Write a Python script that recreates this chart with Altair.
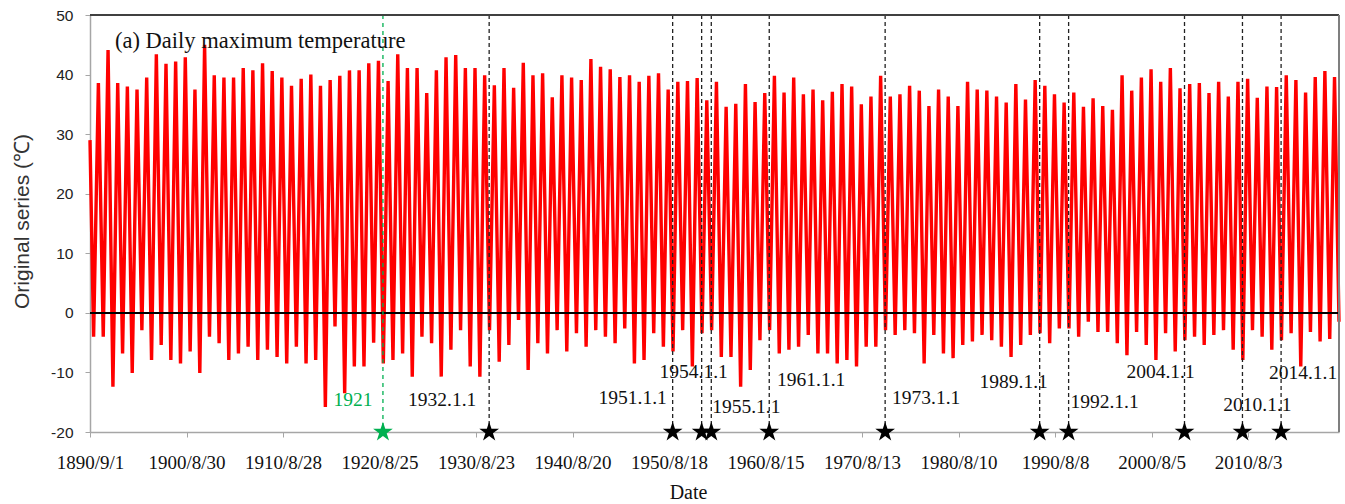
import altair as alt
import pandas as pd

# ---- series: daily maximum temperature, one winter low and one summer peak per year ----
start_date, start_value = "1890-09-01", 29.0
end_date, end_value = "2019-12-31", -1.5

years = list(range(1891, 2020))

summer_peak = [
    38.6, 44.1, 38.6, 38.0, 37.5, 39.5, 43.4, 41.8, 42.2, 42.9,   # 1891-1900
    37.5, 45.0, 39.9, 39.5, 39.5, 41.1, 40.7, 41.9, 40.6, 39.5,   # 1901-1910
    38.1, 39.3, 40.0, 38.1, 39.1, 39.8, 40.7, 40.7, 41.9, 42.3,   # 1911-1920
    38.9, 43.4, 41.1, 41.1, 36.9, 40.7, 42.9, 43.3, 41.1, 41.1,   # 1921-1930
    39.9, 38.2, 41.1, 37.8, 42.0, 39.9, 40.2, 36.2, 39.9, 39.5,   # 1931-1940
    39.1, 42.6, 41.3, 40.9, 39.6, 39.9, 38.8, 39.8, 40.2, 37.5,   # 1941-1950
    38.8, 38.9, 39.4, 35.7, 38.8, 34.6, 35.1, 38.4, 35.4, 36.9,   # 1951-1960
    39.8, 37.0, 39.5, 36.7, 37.5, 35.7, 37.1, 38.4, 38.0, 35.0,   # 1961-1970
    36.3, 39.8, 36.3, 36.7, 38.1, 37.3, 34.7, 37.5, 36.3, 34.7,   # 1971-1980
    38.8, 37.5, 37.3, 36.3, 35.3, 38.4, 35.8, 39.1, 38.1, 36.7,   # 1981-1990
    35.3, 37.0, 34.6, 36.0, 34.7, 34.1, 39.9, 37.3, 39.5, 40.9,   # 1991-2000
    38.8, 41.1, 37.7, 38.4, 38.6, 36.9, 38.8, 36.3, 38.8, 39.3,   # 2001-2010
    36.1, 38.0, 37.9, 39.9, 39.1, 37.0, 39.6, 40.6, 39.6,         # 2011-2019
]

winter_low = [
    -4.0, -4.0, -12.4, -6.8, -10.1, -2.9, -7.9, -5.4, -7.9, -8.5,  # 1891-1900
    -6.5, -10.1, -4.0, -5.1, -7.9, -6.8, -5.7, -7.9, -6.2, -7.4,   # 1901-1910
    -8.5, -5.7, -8.5, -7.9, -15.8, -2.3, -13.5, -9.0, -9.0, -5.0,  # 1911-1920
    -8.5, -7.9, -6.8, -10.7, -4.0, -5.1, -10.7, -6.2, -2.9, -9.0,  # 1921-1930
    -10.7, -2.9, -8.2, -5.4, -1.2, -9.6, -5.1, -6.8, -2.9, -6.5,   # 1931-1940
    -3.4, -5.7, -2.9, -4.0, -5.1, -2.6, -8.5, -7.9, -3.4, -5.7,    # 1941-1950
    -6.5, -2.9, -9.0, -3.4, -2.9, -7.4, -7.4, -12.4, -9.6, -4.6,   # 1951-1960
    -2.9, -6.8, -6.2, -5.7, -3.7, -6.8, -6.8, -8.5, -7.9, -9.0,    # 1961-1970
    -5.7, -5.7, -2.9, -3.7, -2.9, -3.4, -8.5, -3.7, -6.8, -7.6,    # 1971-1980
    -5.4, -4.8, -3.7, -4.6, -5.7, -7.4, -5.4, -3.7, -3.4, -5.1,    # 1981-1990
    -2.6, -2.6, -4.0, -1.5, -3.2, -3.2, -5.1, -7.1, -3.2, -5.4,    # 1991-2000
    -7.9, -3.4, -6.5, -4.6, -4.0, -5.4, -3.7, -2.9, -6.2, -7.9,    # 2001-2010
    -2.9, -4.0, -6.2, -4.6, -3.4, -9.0, -3.2, -4.8, -4.4,          # 2011-2019
]

# ---- change points ----
break_dates = ["1921-01-01", "1932-01-01", "1951-01-01", "1954-01-01",
               "1955-01-01", "1961-01-01", "1973-01-01", "1989-01-01",
               "1992-01-01", "2004-01-01", "2010-01-01", "2014-01-01"]
break_labels = ["1921", "1932.1.1", "1951.1.1", "1954.1.1", "1955.1.1",
                "1961.1.1", "1973.1.1", "1989.1.1", "1992.1.1", "2004.1.1",
                "2010.1.1", "2014.1.1"]

# label placement: horizontal offset (px) from the dashed line, height on the y scale
label_dx = [-30, -47, -40, -8, 35, 42, 41, -26, 36, -24, 15, 22]
label_y = [-14.6, -14.6, -14.3, -9.9, -15.8, -11.3, -14.3, -11.6, -15.0, -9.9, -15.5, -10.1]

tick_dates = pd.date_range("1890-09-01", periods=13, freq="3650D")

# ---- build tables ----
rows = [{"date": start_date, "value": start_value}]
for yr, lo, hi in zip(years, winter_low, summer_peak):
    rows.append({"date": f"{yr}-01-15", "value": lo})
    rows.append({"date": f"{yr}-07-15", "value": hi})
rows.append({"date": end_date, "value": end_value})
series = pd.DataFrame(rows)


def ms(d):
    return int(pd.Timestamp(d).value // 1_000_000)


SERIF = "Liberation Serif"
SANS = "Liberation Sans"
GREEN = "#00b050"
AXIS_GREY = "#a6a6a6"
W, H = 1249, 417

# five-pointed star in the [-1, 1] box used by Vega for custom symbol paths
STAR = ("M0,-1 L0.2245,-0.309 L0.951,-0.309 L0.3633,0.118 L0.588,0.809 "
        "L0,0.382 L-0.588,0.809 L-0.3633,0.118 L-0.951,-0.309 L-0.2245,-0.309 Z")

x_scale = alt.Scale(type="utc", domain=[ms(start_date), ms(end_date)], nice=False)
y_scale = alt.Scale(domain=[-20, 50], nice=False, zero=False)

x_axis = alt.Axis(
    title="Date", orient="bottom", values=[ms(t) for t in tick_dates],
    labelExpr="utcFormat(datum.value, '%Y/%-m/%-d')",
    labelFont=SERIF, labelFontSize=19, labelColor="#111111",
    labelBaseline="alphabetic", labelPadding=31, labelOverlap=False,
    labelFlush=False,
    tickSize=5, tickColor=AXIS_GREY, domainColor=AXIS_GREY, domainWidth=1.5,
    grid=False, titleFont=SERIF, titleFontSize=20, titleFontWeight="normal",
    titleColor="#111111", titleX=598, titleY=66, titleAlign="center",
    titleBaseline="alphabetic",
)
y_axis = alt.Axis(
    title="Original series (℃)", orient="left", values=list(range(-20, 51, 10)),
    labelExpr="'' + datum.value",
    labelFont=SANS, labelFontSize=15.5, labelColor="#222222", labelPadding=12,
    tickSize=5, tickColor=AXIS_GREY, domainColor=AXIS_GREY, domainWidth=1.5,
    grid=False, titleFont=SANS, titleFontSize=21, titleFontWeight="normal",
    titleColor="#333333", titleX=-68, titleY=206, titleAngle=-90,
    titleAlign="center", titleBaseline="middle",
)


def X():
    return alt.X("date:T", scale=x_scale, axis=x_axis)


def Yd(v):
    return alt.YDatum(v, scale=y_scale, axis=y_axis, type="quantitative")


line = alt.Chart(series).mark_line(color="#ff0000", strokeWidth=3.4).encode(
    x=X(), y=alt.Y("value:Q", scale=y_scale, axis=y_axis)
)

zero_rule = alt.Chart(series).mark_rule(color="#000000", strokeWidth=1.5).encode(y=Yd(0))

frame_top = alt.Chart(series).mark_rule(color="#404040", strokeWidth=1.5).encode(y=Yd(50))
frame_right = alt.Chart(series).mark_rule(color="#7f7f7f", strokeWidth=1.5).encode(
    x=alt.value(W), y=alt.value(0), y2=alt.value(H)
)

events = pd.DataFrame({"date": break_dates, "label": break_labels})
ev_black = events.iloc[1:]
ev_green = events.iloc[:1]

rules_black = alt.Chart(ev_black).mark_rule(
    color="#222222", strokeWidth=1.3, strokeDash=[4, 3]
).encode(x=X(), y=Yd(50), y2=alt.Y2Datum(-20))

rule_green = alt.Chart(ev_green).mark_rule(
    color=GREEN, strokeWidth=1.3, strokeDash=[4, 4]
).encode(x=X(), y=Yd(50), y2=alt.Y2Datum(-20))

stars_black = alt.Chart(ev_black).mark_point(
    shape=STAR, filled=True, size=430, color="#000000", opacity=1
).encode(x=X(), y=Yd(-20))

star_green = alt.Chart(ev_green).mark_point(
    shape=STAR, filled=True, size=430, color=GREEN, opacity=1
).encode(x=X(), y=Yd(-20))

labels = []
for i, (d, lab) in enumerate(zip(break_dates, break_labels)):
    labels.append(
        alt.Chart(pd.DataFrame({"date": [d], "label": [lab]})).mark_text(
            dx=label_dx[i], align="center", baseline="middle", font=SERIF,
            fontSize=19.5, color=GREEN if i == 0 else "#111111",
        ).encode(x=X(), y=Yd(label_y[i]), text="label:N")
    )

panel_title = alt.Chart(pd.DataFrame({"t": ["(a) Daily maximum temperature"]})).mark_text(
    align="left", baseline="alphabetic", font=SERIF, fontSize=22.5, color="#111111"
).encode(x=alt.value(25), y=alt.value(33), text="t:N")

chart = alt.layer(
    line, zero_rule, rules_black, rule_green, frame_top, frame_right,
    stars_black, star_green, *labels, panel_title
).properties(
    width=W, height=H,
    autosize=alt.AutoSizeParams(type="none"),
    padding={"left": 90, "top": 15, "right": 6, "bottom": 72},
).configure_view(strokeWidth=0).configure(background="white")

chart.save("out.html", embed_options={"renderer": "svg", "actions": False})
